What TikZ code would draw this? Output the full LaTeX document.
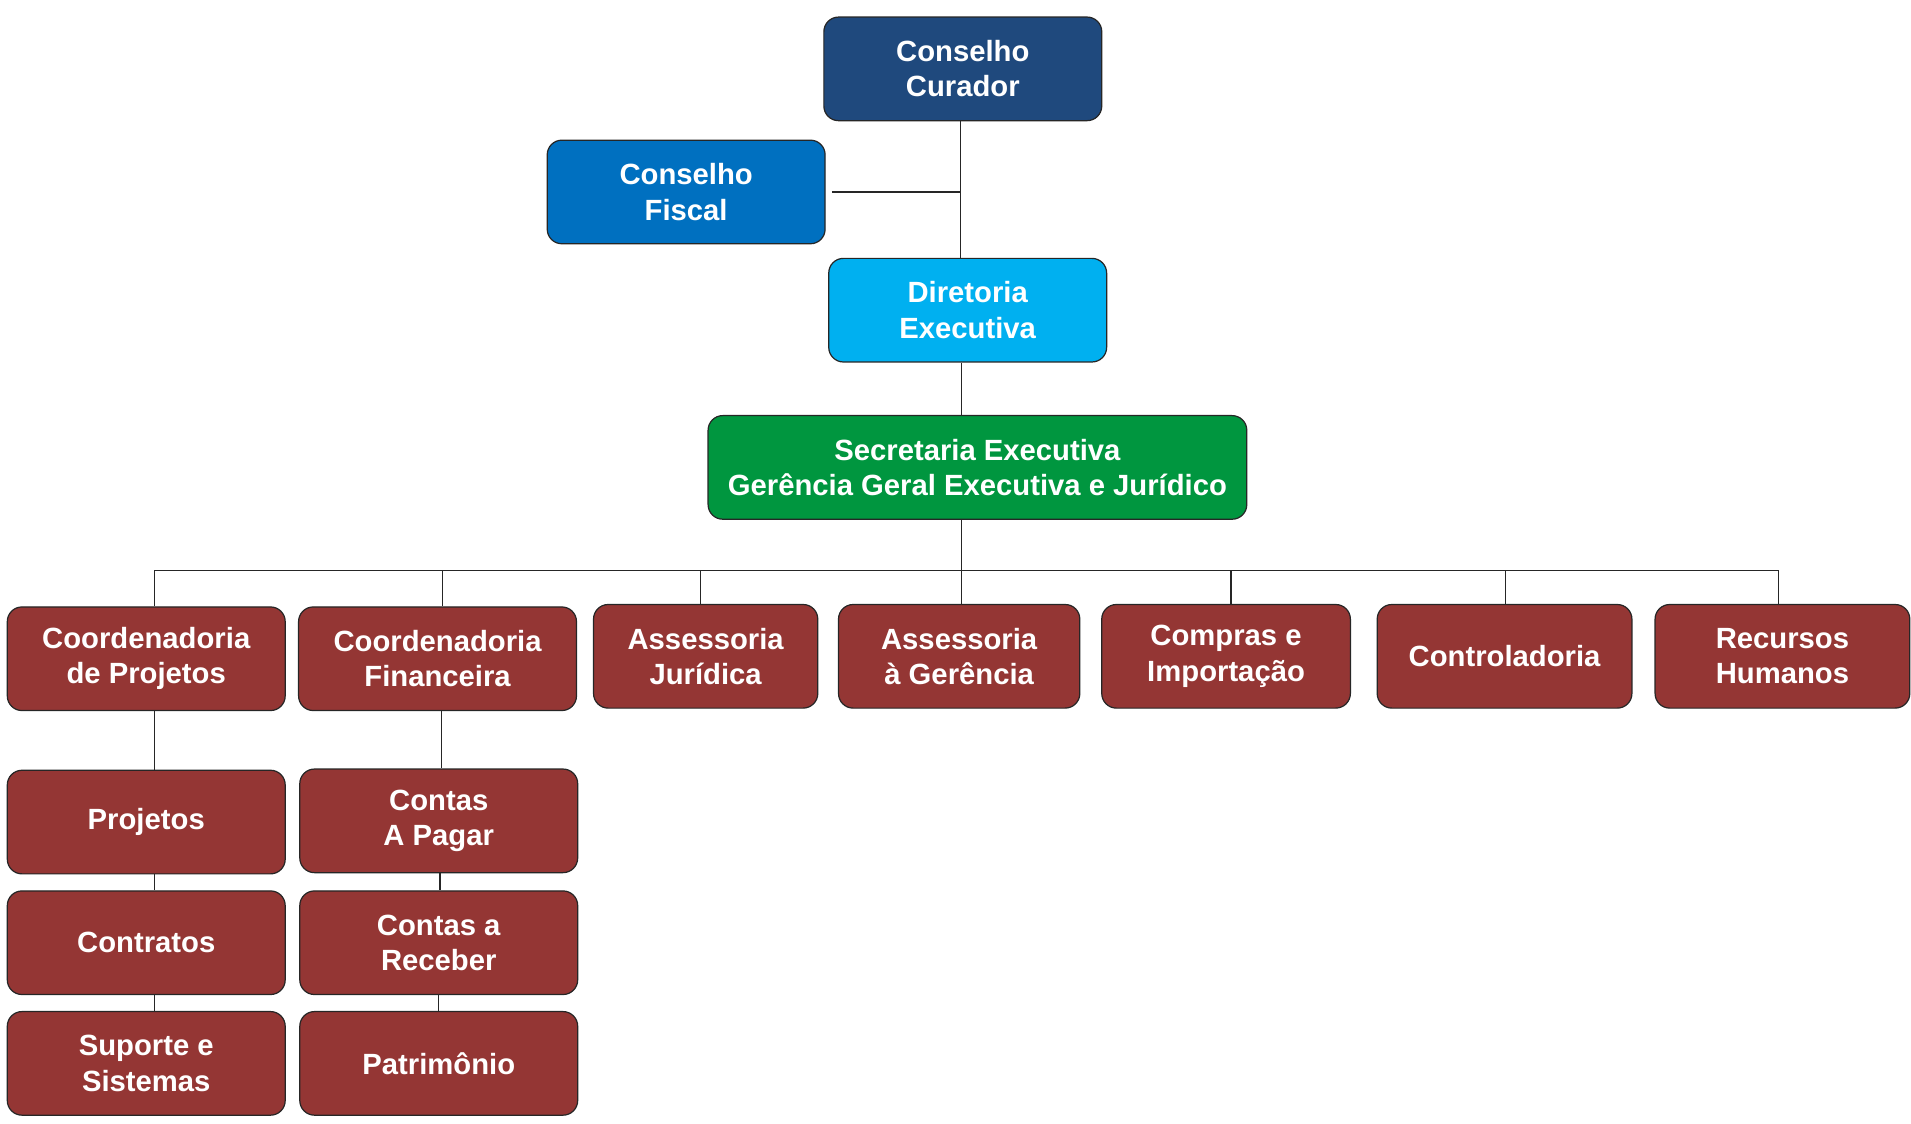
\documentclass[tikz,border=0pt]{standalone}
\usepackage{fontspec}
\setmainfont{Liberation Sans}
\definecolor{cdark}{HTML}{1F497D}
\definecolor{cmid}{HTML}{0070C0}
\definecolor{clight}{HTML}{00B0F0}
\definecolor{cgreen}{HTML}{00963F}
\definecolor{cred}{HTML}{943634}
\definecolor{cline}{HTML}{262626}
\tikzset{
  orgbox/.style={draw=cline, line width=1pt, rounded corners=12pt, text=white,
    font=\bfseries\fontsize{24}{29}\selectfont, align=center, inner sep=0pt,
    minimum width=228pt, minimum height=85pt},
  redbox/.style={orgbox, fill=cred},
  conn/.style={draw=cline, line width=1pt}
}
\begin{document}
\begin{tikzpicture}[x=1pt,y=-1pt]
\useasboundingbox (0,0) rectangle (1568,922);
\node[orgbox, fill=cdark] (cc) at (790,56.5) {Conselho\\Curador};
\node[orgbox, fill=cmid] (cf) at (563,157.5) {Conselho\\Fiscal};
\node[orgbox, fill=clight] (de) at (794,254.5) {Diretoria\\Executiva};
\node[orgbox, fill=cgreen, minimum width=442pt] (se) at (802,383.5) {Secretaria Executiva\\Gerência Geral Executiva e Jurídico};
\node[redbox] (cp) at (120,540.5) {Coordenadoria\\de Projetos};
\node[redbox] (cfin) at (359,540.5) {Coordenadoria\\Financeira};
\node[redbox, minimum width=184pt] (aj) at (579,538.5) {Assessoria\\Jurídica};
\node[redbox, minimum width=198pt] (ag) at (787,538.5) {Assessoria\\à Gerência};
\node[redbox, minimum width=204pt] (ci) at (1006,538.5) {Compras e\\Importação};
\node[redbox, minimum width=209pt] (ctl) at (1234.5,538.5) {Controladoria};
\node[redbox, minimum width=209pt] (rh) at (1462.5,538.5) {Recursos\\Humanos};
\node[redbox] (pj) at (120,674.5) {Projetos};
\node[redbox] (ct) at (120,773.5) {Contratos};
\node[redbox] (ss) at (120,872.5) {Suporte e\\Sistemas};
\node[redbox] (cap) at (360,673.5) {Contas\\A Pagar};
\node[redbox] (car) at (360,773.5) {Contas a\\Receber};
\node[redbox] (pat) at (360,872.5) {Patrimônio};
\coordinate (spine) at (788,0);
\coordinate (bus) at (0,468);
\coordinate (spine2) at (789,0);
% top spine
\draw[conn] (spine |- cc.south) -- (spine |- de.north);
\draw[conn] ([xshift=5pt]cf.east) -- (spine |- cf.east);
\draw[conn] (spine2 |- de.south) -- (spine2 |- se.north);
\draw[conn] (spine2 |- se.south) -- (spine2 |- ag.north);
% bus
\draw[conn] ([xshift=7pt]cp.north) -- ([xshift=7pt]cp.north |- bus) -- ([xshift=-3pt]rh.north |- bus) -- ([xshift=-3pt]rh.north);
\draw[conn] ([xshift=4pt]cfin.north) -- ([xshift=4pt]cfin.north |- bus);
\draw[conn] ([xshift=-4pt]aj.north) -- ([xshift=-4pt]aj.north |- bus);
\draw[conn] ([xshift=4pt]ci.north) -- ([xshift=4pt]ci.north |- bus);
\draw[conn] ([xshift=0.5pt]ctl.north) -- ([xshift=0.5pt]ctl.north |- bus);
% columns
\draw[conn] ([xshift=7pt]cp.south) -- ([xshift=7pt]pj.north);
\draw[conn] ([xshift=7pt]pj.south) -- ([xshift=7pt]ct.north);
\draw[conn] ([xshift=7pt]ct.south) -- ([xshift=7pt]ss.north);
\draw[conn] ([xshift=3pt]cfin.south) -- ([xshift=2pt]cap.north);
\draw[conn] ([xshift=1pt]cap.south) -- ([xshift=1pt]car.north);
\draw[conn] ([xshift=0pt]car.south) -- ([xshift=0pt]pat.north);
\end{tikzpicture}
\end{document}
